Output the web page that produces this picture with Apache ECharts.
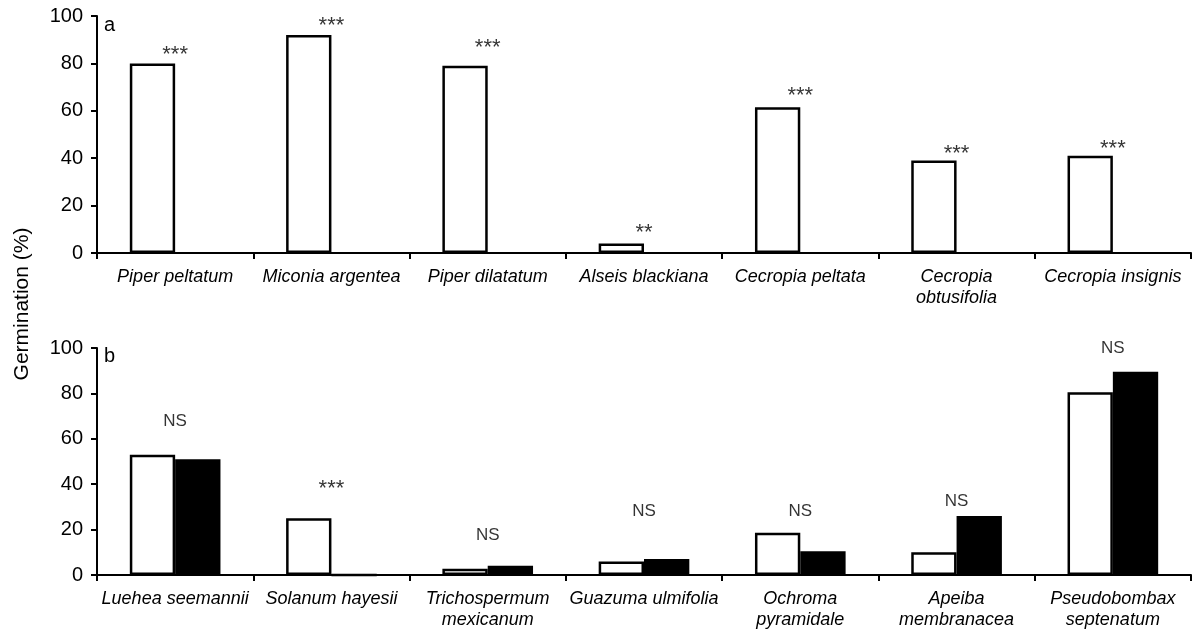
<!DOCTYPE html>
<html>
<head>
<meta charset="utf-8">
<script src="https://cdn.jsdelivr.net/npm/echarts@6/dist/echarts.min.js"></script>
<style>
  html, body { margin: 0; padding: 0; background: #fff; }
  #main { width: 1194px; height: 632px; }
</style>
</head>
<body>
<div id="main"></div>
<script>
// panel a
var speciesA = ['Piper peltatum', 'Miconia argentea', 'Piper dilatatum', 'Alseis blackiana',
  'Cecropia peltata', 'Cecropia\nobtusifolia', 'Cecropia insignis'];
var whiteA = [80, 92, 79, 4, 61.5, 39, 41];
var blackA = [null, null, null, null, null, null, null];
var signifA = ['***', '***', '***', '**', '***', '***', '***'];
var signifPosA = [85.5, 98, 88.5, 10.5, 68.5, 44, 46];

// panel b
var speciesB = ['Luehea seemannii', 'Solanum hayesii', 'Trichospermum\nmexicanum', 'Guazuma ulmifolia',
  'Ochroma\npyramidale', 'Apeiba\nmembranacea', 'Pseudobombax\nseptenatum'];
var whiteB = [53, 25, 2.8, 6, 18.6, 10, 80.5];
var blackB = [51, 0, 4.1, 7, 10.5, 26, 89.5];
var signifB = ['NS', '***', 'NS', 'NS', 'NS', 'NS', 'NS'];
var signifPosB = [67.5, 40, 17.5, 28, 28, 32.5, 100];

var yTicks = [0, 20, 40, 60, 80, 100];

var chart = echarts.init(document.getElementById('main'));

function xAx(idx, cats) {
  return {
    type: 'category', gridIndex: idx, data: cats,
    axisLine: { lineStyle: { color: '#000', width: 2 } },
    axisTick: { show: true, length: 6, lineStyle: { color: '#000', width: 2 } },
    axisLabel: {
      color: '#000', fontSize: 18, fontStyle: 'italic', fontFamily: 'Liberation Sans',
      margin: 13, lineHeight: 21, interval: 0
    }
  };
}
function yAx(idx) {
  return {
    type: 'value', gridIndex: idx, min: yTicks[0], max: yTicks[yTicks.length - 1], interval: 20,
    axisLine: { show: true, lineStyle: { color: '#000', width: 2 } },
    axisTick: { show: true, length: 6, lineStyle: { color: '#000', width: 2 } },
    axisLabel: { color: '#000', fontSize: 20, fontFamily: 'Liberation Sans', margin: 14 },
    splitLine: { show: false }
  };
}
function marks(pos) {
  return pos.map(function (v, i) { return [i, v]; });
}
var barStyle = function (fill) {
  return { color: fill, borderColor: '#000', borderWidth: 2.5 };
};
var markLabel = function (texts) {
  return {
    show: true, position: 'inside',
    formatter: function (p) {
      var t = texts[p.dataIndex];
      return t.indexOf('*') >= 0 ? '{s|' + t + '}' : '{n|' + t + '}';
    },
    rich: {
      s: { color: '#000', fontSize: 22, fontFamily: 'Liberation Sans', padding: [10, 0, 0, 0] },
      n: { color: '#000', fontSize: 17, fontFamily: 'Liberation Sans' }
    }
  };
};

chart.setOption({
  animation: false,
  backgroundColor: '#fff',
  grid: [
    { left: 97, right: 3, top: 16, height: 237 },
    { left: 97, right: 3, top: 348, height: 227 }
  ],
  xAxis: [xAx(0, speciesA), xAx(1, speciesB)],
  yAxis: [yAx(0), yAx(1)],
  graphic: [
    { type: 'text', left: 104, top: 15, style: { text: 'a', fontSize: 20, fontFamily: 'Liberation Sans', fill: '#000' } },
    { type: 'text', left: 104, top: 346, style: { text: 'b', fontSize: 20, fontFamily: 'Liberation Sans', fill: '#000' } },
    {
      type: 'text', x: 22, y: 304, rotation: Math.PI / 2,
      style: { text: 'Germination (%)', fontSize: 21, fontFamily: 'Liberation Sans', fill: '#000',
        align: 'center', verticalAlign: 'middle' }
    }
  ],
  series: [
    { type: 'bar', xAxisIndex: 0, yAxisIndex: 0, data: whiteA, itemStyle: barStyle('#fff'),
      barGap: '0%', barCategoryGap: '42%' },
    { type: 'bar', xAxisIndex: 0, yAxisIndex: 0, data: blackA, itemStyle: barStyle('#000') },
    { type: 'bar', xAxisIndex: 1, yAxisIndex: 1, data: whiteB, itemStyle: barStyle('#fff'),
      barGap: '0%', barCategoryGap: '42%' },
    { type: 'bar', xAxisIndex: 1, yAxisIndex: 1, data: blackB, itemStyle: barStyle('#000') },
    { type: 'scatter', xAxisIndex: 0, yAxisIndex: 0, symbolSize: 0, data: marks(signifPosA),
      label: markLabel(signifA) },
    { type: 'scatter', xAxisIndex: 1, yAxisIndex: 1, symbolSize: 0, data: marks(signifPosB),
      label: markLabel(signifB) }
  ]
});
</script>
</body>
</html>
